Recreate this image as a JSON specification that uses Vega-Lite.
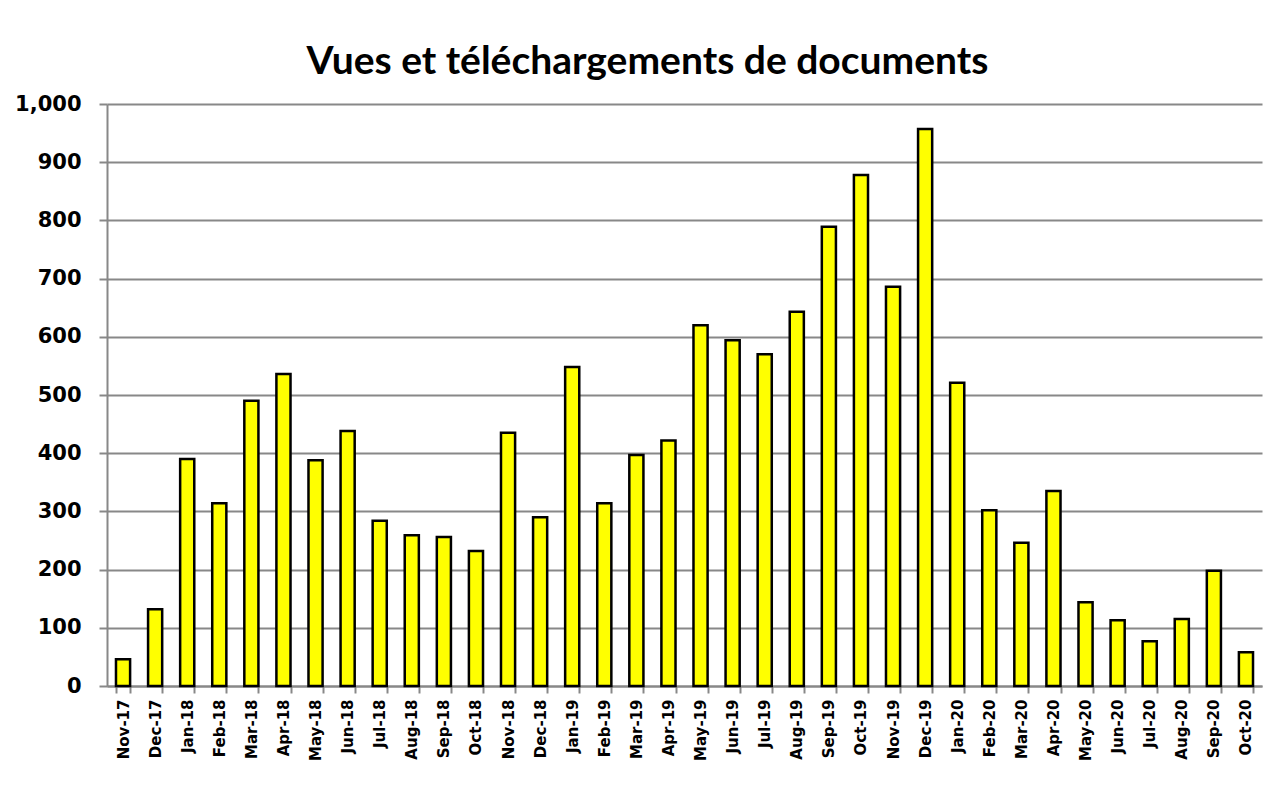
{
  "$schema": "https://vega.github.io/schema/vega-lite/v6.json",
  "width": 1155,
  "height": 582,
  "autosize": {"type": "none"},
  "padding": {"left": 107, "top": 104, "right": 7, "bottom": 112},
  "background": "white",
  "title": {
    "text": "Vues et téléchargements de documents",
    "font": "Lato",
    "fontSize": 39,
    "fontWeight": "bold",
    "color": "#000000",
    "anchor": "middle",
    "dx": -37,
    "offset": 11
  },
  "data": {
    "values": [
      {"month": "Nov-17", "value": 46},
      {"month": "Dec-17", "value": 132},
      {"month": "Jan-18", "value": 390},
      {"month": "Feb-18", "value": 314},
      {"month": "Mar-18", "value": 490},
      {"month": "Apr-18", "value": 536},
      {"month": "May-18", "value": 388},
      {"month": "Jun-18", "value": 438},
      {"month": "Jul-18", "value": 284},
      {"month": "Aug-18", "value": 259},
      {"month": "Sep-18", "value": 256},
      {"month": "Oct-18", "value": 232},
      {"month": "Nov-18", "value": 435},
      {"month": "Dec-18", "value": 290},
      {"month": "Jan-19", "value": 548},
      {"month": "Feb-19", "value": 314},
      {"month": "Mar-19", "value": 397},
      {"month": "Apr-19", "value": 422},
      {"month": "May-19", "value": 620},
      {"month": "Jun-19", "value": 594},
      {"month": "Jul-19", "value": 570},
      {"month": "Aug-19", "value": 643},
      {"month": "Sep-19", "value": 789},
      {"month": "Oct-19", "value": 878},
      {"month": "Nov-19", "value": 686},
      {"month": "Dec-19", "value": 957},
      {"month": "Jan-20", "value": 521},
      {"month": "Feb-20", "value": 302},
      {"month": "Mar-20", "value": 246},
      {"month": "Apr-20", "value": 335},
      {"month": "May-20", "value": 144},
      {"month": "Jun-20", "value": 113},
      {"month": "Jul-20", "value": 77},
      {"month": "Aug-20", "value": 115},
      {"month": "Sep-20", "value": 198},
      {"month": "Oct-20", "value": 58}
    ]
  },
  "mark": {"type": "bar", "fill": "#FFFF00", "stroke": "#000000", "strokeWidth": 2.5},
  "encoding": {
    "x": {
      "field": "month",
      "type": "ordinal",
      "sort": null,
      "scale": {"paddingInner": 0.56, "paddingOuter": 0.28},
      "axis": {
        "title": null,
        "labelAngle": -90,
        "labelFont": "DejaVu Sans",
        "labelFontWeight": "bold",
        "labelFontSize": 15,
        "labelColor": "#000000",
        "labelPadding": 6,
        "tickSize": 7,
        "tickColor": "#888888",
        "tickWidth": 2,
        "tickBand": "extent",
        "domainColor": "#888888",
        "domainWidth": 2
      }
    },
    "y": {
      "field": "value",
      "type": "quantitative",
      "scale": {"domain": [0, 1000], "nice": false},
      "axis": {
        "title": null,
        "values": [0, 100, 200, 300, 400, 500, 600, 700, 800, 900, 1000],
        "format": ",d",
        "labelFont": "DejaVu Sans",
        "labelFontWeight": "bold",
        "labelFontSize": 21,
        "labelColor": "#000000",
        "labelPadding": 18,
        "tickSize": 8,
        "tickColor": "#888888",
        "tickWidth": 2,
        "domainColor": "#888888",
        "domainWidth": 2,
        "grid": true,
        "gridColor": "#888888",
        "gridWidth": 2
      }
    }
  },
  "config": {
    "view": {"stroke": null}
  }
}
